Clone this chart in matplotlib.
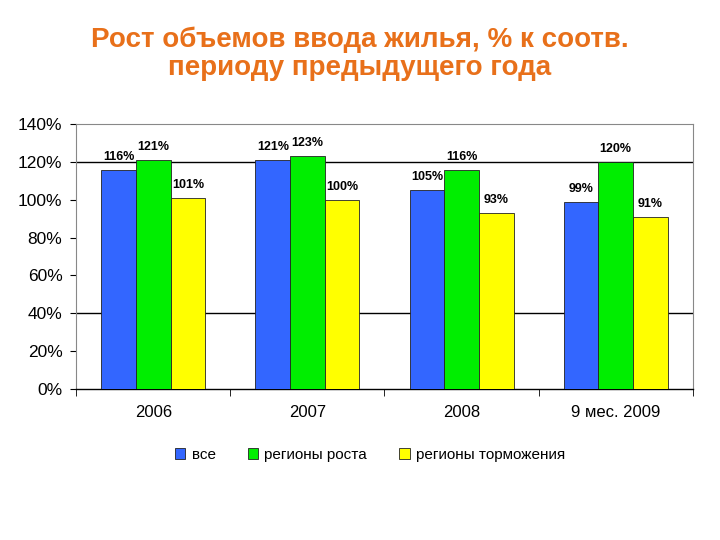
import numpy as np
import matplotlib.pyplot as plt

plt.rcParams['font.family'] = ['Liberation Sans', 'DejaVu Sans']

# data
categories = ['2006', '2007', '2008', '9 мес. 2009']
series_names = ['все', 'регионы роста', 'регионы торможения']
vse = [116, 121, 105, 99]
rost = [121, 123, 116, 120]
torm = [101, 100, 93, 91]
colors = ['#3366FF', '#00EE00', '#FFFF00']

fig = plt.figure(figsize=(7.2, 5.4), dpi=100)
ax = fig.add_axes([0.106, 0.280, 0.856, 0.490])

x = np.arange(len(categories))
w = 0.225
for i, (vals, name, c) in enumerate(zip([vse, rost, torm], series_names, colors)):
    pos = x + (i - 1) * w
    bars = ax.bar(pos, vals, width=w, color=c, edgecolor='#222222', linewidth=0.6,
                  label=name, zorder=3)
    for p, v in zip(pos, vals):
        ax.annotate(f'{v}%', (p, v), xytext=(0, 5), textcoords='offset points',
                    ha='center', va='bottom', fontsize=9, fontweight='bold')

# only two grid lines, as in the original
for g in [40, 120]:
    ax.axhline(g, color='black', linewidth=1, zorder=1)

ax.set_ylim(0, 140)
ax.set_xlim(-0.5, len(categories) - 0.5)
ax.set_yticks(range(0, 141, 20))
ax.set_yticklabels([f'{t}%' for t in range(0, 141, 20)], fontsize=12.5)
ax.set_xticks(x)
ax.set_xticklabels(categories, fontsize=12)
ax.set_xticks(np.arange(-0.5, len(categories), 1), minor=True)
ax.tick_params(axis='x', which='major', length=0, pad=12)
ax.tick_params(axis='x', which='minor', length=5, direction='out')
ax.tick_params(axis='y', length=4, direction='out', pad=6)

for s in ['top', 'right', 'left']:
    ax.spines[s].set_color('#888888')
ax.spines['bottom'].set_color('black')
ax.spines['bottom'].set_linewidth(1)

fig.legend(loc='center', bbox_to_anchor=(0.514, 0.158), ncol=3, frameon=False,
           fontsize=11, handlelength=0.7, handleheight=0.7, columnspacing=2.1,
           handletextpad=0.4)

fig.text(0.5, 0.9, 'Рост объемов ввода жилья, % к соотв.\nпериоду предыдущего года',
         ha='center', va='center', fontsize=20, fontweight='bold', color='#E8701A',
         linespacing=1.12)

fig.savefig('out.png', dpi=100)
